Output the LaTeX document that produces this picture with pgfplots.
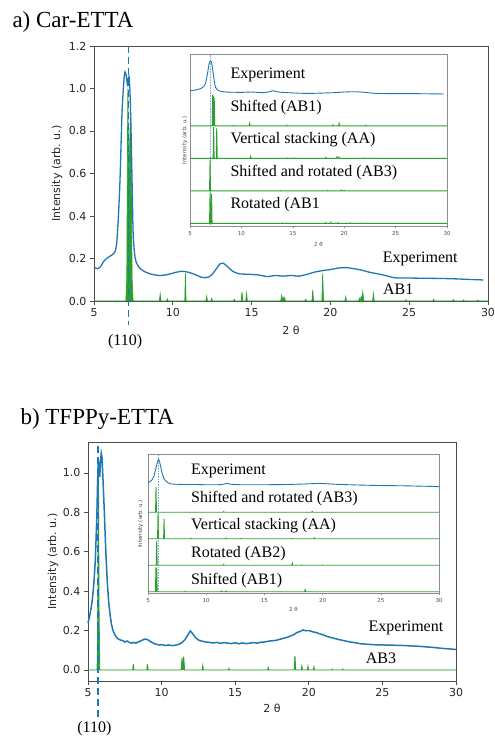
\documentclass[border=0pt]{standalone}
\usepackage{fontspec}
\setmainfont{Liberation Serif}
\newfontfamily\dv{DejaVu Sans}
\usepackage{pgfplots}
\pgfplotsset{compat=1.18}
\definecolor{tblue}{RGB}{31,119,180}
\definecolor{tgreen}{RGB}{44,160,44}
\tikzset{lab/.style={font=\fontsize{16}{18}\selectfont}}
\pgfplotsset{
 mainax/.style={scale only axis, anchor=south west, xmin=5, xmax=30, xtick={5,10,15,20,25,30},
  tick align=outside, tick pos=left, major tick length=4pt,
  axis line style={black!70, line width=0.8pt}, every tick/.style={black!70, line width=0.8pt},
  tick label style={font=\dv\fontsize{11}{13}\selectfont, text=black!85},
  /pgf/number format/assume math mode=true,
  label style={font=\dv\fontsize{11}{13}\selectfont, text=black!85},
  ylabel={Intensity (arb.\ u.)}, xlabel={2 θ}, clip=false,
  yticklabel style={/pgf/number format/.cd, fixed, fixed zerofill, precision=1}},
 inax/.style={scale only axis, anchor=south west, xmin=5, xmax=30, xtick={5,10,15,20,25,30}, ytick=\empty,
  tick align=outside, tick pos=left, major tick length=1.5pt,
  axis line style={black!45, line width=0.6pt}, every tick/.style={black!45},
  tick label style={font=\dv\fontsize{5.5}{6}\selectfont, text=black!70},
  /pgf/number format/assume math mode=true,
  label style={font=\dv\fontsize{5.5}{6}\selectfont, text=black!70},
  ylabel={Intensity (arb.\ u.)}, xlabel={2 θ},
  axis background/.style={fill=white}, clip=false},
}
\begin{document}
\begin{tikzpicture}
\path[use as bounding box] (0,0) rectangle (495pt,737pt);
\node[anchor=west, font=\fontsize{23}{26}\selectfont] at (9pt,715pt) {a) Car-ETTA};
\node[anchor=west, font=\fontsize{23}{26}\selectfont] at (17pt,318pt) {b) TFPPy-ETTA};

% ---------------- panel a main
\begin{axis}[mainax, at={(94pt,436pt)}, width=394pt, height=255pt, ymin=0, ymax=1.2,
  ytick={0,0.2,0.4,0.6,0.8,1.0,1.2},
  xlabel style={at={(axis description cs:0.5,-0.114)}, anchor=center},
  ylabel style={at={(axis description cs:-0.094,0.5)}, anchor=center}]
\addplot[tgreen, fill=tgreen, line width=0.7pt] coordinates {
(5,0)(7.02,0)(7.08,0.1)(7.12,0.7)(7.15,1.0)(7.18,0.7)(7.22,0.55)(7.27,0.75)(7.32,0.905)(7.36,0.6)(7.42,0.1)(7.48,0)
(9.15,0)(9.2,0.032)(9.25,0)(9.6,0)(9.65,0.01)(9.7,0)
(10.76,0)(10.8,0.13)(10.84,0)
(12.1,0)(12.15,0.022)(12.2,0)(12.42,0)(12.47,0.012)(12.52,0)
(13.85,0)(13.9,0.008)(13.95,0)
(14.34,0)(14.39,0.042)(14.44,0)(14.63,0)(14.68,0.036)(14.73,0)
(16.85,0)(16.9,0.025)(16.95,0)(17.0,0.018)(17.05,0)(17.1,0.015)(17.15,0)
(18.38,0)(18.43,0.008)(18.48,0)(18.83,0)(18.88,0.052)(18.93,0)
(19.46,0)(19.51,0.13)(19.56,0)
(20.92,0)(20.97,0.02)(21.02,0)
(21.79,0)(21.84,0.012)(21.89,0)(21.95,0.02)(22.0,0)(22.05,0.042)(22.12,0)
(22.68,0)(22.73,0.035)(22.78,0)
(24.75,0)(24.8,0.006)(24.85,0)(26.5,0)(26.55,0.008)(26.6,0)
(27.75,0)(27.8,0.006)(27.85,0)(28.4,0)(28.45,0.005)(28.5,0)(29.3,0)(29.35,0.004)(29.4,0)(30,0)};
\addplot[tblue, line width=1.3pt, smooth, tension=0.4] coordinates {
(5.0,0.160)(5.2,0.152)(5.4,0.160)(5.6,0.185)(5.8,0.200)(6.0,0.210)(6.2,0.220)(6.35,0.235)(6.45,0.28)(6.55,0.40)(6.65,0.57)(6.78,0.89)(6.9,1.04)(6.97,1.078)(7.05,1.06)(7.12,1.02)(7.22,1.057)(7.3,0.95)(7.38,0.7)(7.48,0.33)(7.58,0.22)(7.69,0.18)(7.85,0.16)(8.0,0.148)(8.3,0.135)(8.7,0.125)(9.2,0.12)(9.7,0.125)(10.2,0.135)(10.6,0.14)(11.0,0.135)(11.4,0.125)(11.8,0.112)(12.1,0.11)(12.4,0.118)(12.7,0.145)(13.0,0.175)(13.2,0.178)(13.5,0.16)(13.8,0.14)(14.2,0.128)(15,0.125)(15.5,0.122)(16.0,0.115)(16.5,0.12)(17,0.117)(17.5,0.12)(18,0.117)(18.5,0.125)(19.0,0.136)(19.5,0.143)(20,0.148)(20.5,0.155)(21,0.157)(21.5,0.152)(22,0.145)(22.5,0.135)(23,0.128)(23.5,0.12)(24,0.11)(24.5,0.108)(25,0.108)(26,0.107)(27,0.106)(28,0.104)(29,0.101)(29.7,0.099)};
\addplot[tblue, line width=1.6pt, dash pattern=on 7pt off 4pt] coordinates {(7.2,1.2)(7.2,-0.113)};
\node[lab] at (axis cs:25.7,0.20) {Experiment};
\node[lab] at (axis cs:24.3,0.055) {AB1};
\node[lab] at (axis cs:6.97,-0.189) {(110)};
\end{axis}

% ---------------- panel a inset
\begin{axis}[inax, at={(190pt,510.3pt)}, width=257pt, height=172.4pt, ymin=-0.1, ymax=5.2,
  xlabel style={at={(axis description cs:0.5,-0.105)}, anchor=center},
  ylabel style={at={(axis description cs:-0.02,0.5)}, anchor=center}]
\addplot[tblue!60, densely dotted, line width=0.6pt] coordinates {(7.0,-0.1)(7.0,5.2)};
\addplot[tblue, line width=0.9pt, smooth, tension=0.4] coordinates {
(5,4.08)(5.5,4.1)(6,4.14)(6.3,4.2)(6.5,4.3)(6.7,4.6)(6.85,4.9)(7.0,5.0)(7.1,4.95)(7.2,4.75)(7.35,4.4)(7.5,4.18)(7.8,4.08)(8.5,4.04)(10,4.03)(11,4.04)(12,4.02)(12.6,4.04)(13.1,4.08)(13.6,4.04)(14.5,4.02)(16,4.0)(17,4.0)(18,4.01)(19,4.02)(20,4.04)(21,4.05)(22,4.03)(23,4.0)(25,3.99)(27,3.99)(29.7,3.98)};
% Shifted (AB1), baseline 3
\addplot[tgreen, line width=0.9pt] coordinates {
(5,3)(7.16,3)(7.2,3.95)(7.24,3)(7.28,3.92)(7.32,3)(7.36,3.85)(7.4,3)
(9.15,3)(9.2,3.015)(9.25,3)(10.75,3)(10.8,3.08)(10.85,3)(14.35,3)(14.4,3.02)(14.45,3)
(18.85,3)(18.9,3.03)(18.95,3)(19.45,3)(19.5,3.08)(19.55,3)(22.05,3)(22.1,3.02)(22.15,3)(30,3)};
% Vertical stacking (AA), baseline 2
\addplot[tgreen, line width=0.9pt] coordinates {
(5,2)(7.25,2)(7.3,2.97)(7.35,2)(7.55,2)(7.6,2.93)(7.65,2)
(10.85,2)(10.9,2.06)(10.95,2)(14.45,2)(14.5,2.015)(14.55,2)(15.05,2)(15.1,2.015)(15.15,2)
(18.15,2)(18.2,2.03)(18.25,2)(19.25,2)(19.3,2.05)(19.4,2)(19.5,2.04)(19.55,2)
(21.85,2)(21.9,2.015)(21.95,2)(22.95,2)(23,2.01)(23.05,2)(30,2)};
% Shifted and rotated (AB3), baseline 1
\addplot[tgreen, line width=0.9pt] coordinates {
(5,1)(6.9,1)(6.95,1.95)(7.0,1)
(13.75,1)(13.8,1.01)(13.85,1)(18.35,1)(18.4,1.02)(18.45,1)(19.65,1)(19.7,1.03)(19.8,1)(19.95,1)(20,1.02)(20.05,1)(30,1)};
% Rotated (AB1), baseline 0
\addplot[tgreen, line width=0.9pt] coordinates {
(5,0)(6.9,0)(6.95,0.95)(7.0,0)(7.05,0)(7.1,0.9)(7.15,0)
(13.95,0)(14.0,0.015)(14.05,0)(14.35,0)(14.4,0.015)(14.45,0)(18.15,0)(18.2,0.03)(18.25,0)(18.65,0)(18.7,0.035)(18.75,0)
(19.35,0)(19.4,0.03)(19.45,0)(20.55,0)(20.6,0.02)(20.65,0)(21.65,0)(21.7,0.015)(21.75,0)(22.15,0)(22.2,0.01)(22.25,0)(30,0)};
\node[lab, anchor=west] at (axis cs:8.6,4.57) {Experiment};
\node[lab, anchor=west] at (axis cs:8.6,3.56) {Shifted (AB1)};
\node[lab, anchor=west] at (axis cs:8.6,2.57) {Vertical stacking (AA)};
\node[lab, anchor=west] at (axis cs:8.6,1.57) {Shifted and rotated (AB3)};
\node[lab, anchor=west] at (axis cs:8.6,0.57) {Rotated (AB1};
\end{axis}

% ---------------- panel b main
\begin{axis}[mainax, at={(88pt,56pt)}, width=368pt, height=239pt, ymin=-0.056, ymax=1.157,
  ytick={0,0.2,0.4,0.6,0.8,1.0},
  xlabel style={at={(axis description cs:0.5,-0.113)}, anchor=center},
  ylabel style={at={(axis description cs:-0.095,0.5)}, anchor=center}]
\addplot[tgreen, fill=tgreen, line width=0.9pt] coordinates {
(5,0)(5.62,0)(5.67,0.3)(5.71,1.0)(5.75,0.3)(5.8,0)
(8.04,0)(8.08,0.03)(8.12,0)(9.0,0)(9.04,0.03)(9.08,0)
(11.33,0)(11.39,0.06)(11.45,0)(11.5,0.068)(11.56,0)
(12.76,0)(12.8,0.022)(12.84,0)(14.53,0)(14.57,0.008)(14.61,0)(17.2,0)(17.24,0.012)(17.28,0)
(19.01,0)(19.06,0.071)(19.11,0)(19.49,0)(19.53,0.02)(19.57,0)(19.9,0)(19.94,0.018)(19.98,0)(20.31,0)(20.35,0.015)(20.39,0)
(21.56,0)(21.6,0.004)(21.64,0)(22.26,0)(22.3,0.005)(22.34,0)(30,0)};
\addplot[tblue, line width=1.5pt] coordinates {
(5.0,0.237)(5.1,0.27)(5.2,0.31)(5.3,0.36)(5.4,0.44)(5.5,0.56)(5.6,0.78)(5.65,0.95)(5.7,1.07)(5.75,1.02)(5.8,0.98)(5.85,1.06)(5.9,1.10)(5.95,1.08)(6.0,1.0)(6.1,0.82)(6.2,0.62)(6.3,0.46)(6.4,0.35)(6.5,0.28)(6.6,0.23)(6.7,0.20)(6.85,0.175)(7.0,0.16)(7.2,0.152)(7.4,0.148)(7.5,0.142)(7.65,0.147)(7.8,0.14)(7.95,0.136)(8.1,0.14)(8.25,0.136)(8.4,0.142)(8.55,0.146)(8.7,0.152)(8.9,0.157)(9.1,0.152)(9.25,0.143)(9.4,0.138)(9.55,0.132)(9.7,0.13)(9.85,0.126)(10.0,0.129)(10.25,0.124)(10.5,0.127)(10.75,0.123)(11.0,0.127)(11.2,0.131)(11.4,0.14)(11.6,0.155)(11.8,0.18)(11.95,0.198)(12.1,0.185)(12.3,0.165)(12.5,0.152)(12.75,0.146)(13.0,0.142)(13.25,0.14)(13.5,0.137)(13.75,0.14)(14,0.135)(14.25,0.139)(14.5,0.136)(14.75,0.134)(15,0.138)(15.25,0.133)(15.5,0.137)(15.75,0.134)(16,0.136)(16.25,0.139)(16.5,0.136)(16.75,0.141)(17,0.142)(17.25,0.146)(17.5,0.148)(17.75,0.15)(18,0.155)(18.25,0.16)(18.5,0.165)(18.75,0.172)(19,0.18)(19.2,0.19)(19.4,0.195)(19.6,0.203)(19.8,0.199)(20,0.2)(20.25,0.194)(20.5,0.19)(20.75,0.183)(21,0.178)(21.25,0.17)(21.5,0.165)(21.75,0.16)(22,0.155)(22.25,0.151)(22.5,0.147)(22.75,0.143)(23,0.14)(23.25,0.137)(23.5,0.133)(23.75,0.132)(24,0.13)(24.5,0.128)(25,0.127)(25.5,0.126)(26,0.125)(26.5,0.124)(27,0.122)(27.5,0.12)(28,0.117)(28.5,0.114)(29,0.11)(29.5,0.107)(30,0.104)};
\addplot[tblue, line width=1.6pt, dash pattern=on 7pt off 4pt] coordinates {(5.68,1.139)(5.68,-0.254)};
\node[lab] at (axis cs:26.6,0.215) {Experiment};
\node[lab] at (axis cs:24.9,0.057) {AB3};
\node[lab] at (axis cs:5.43,-0.30) {(110)};
\end{axis}

% ---------------- panel b inset
\begin{axis}[inax, at={(148pt,143.7pt)}, width=291pt, height=139pt, ymin=-0.06, ymax=5.19,
  xlabel style={at={(axis description cs:0.5,-0.115)}, anchor=center},
  ylabel style={at={(axis description cs:-0.025,0.5)}, anchor=center}]
\addplot[tblue!60, densely dotted, line width=0.6pt] coordinates {(5.92,-0.06)(5.92,5.19)};
\addplot[tblue, line width=0.9pt, smooth, tension=0.4] coordinates {
(5,4.13)(5.3,4.2)(5.5,4.35)(5.7,4.7)(5.85,4.95)(5.92,4.99)(6.0,4.9)(6.2,4.5)(6.4,4.25)(6.7,4.12)(7,4.07)(8,4.05)(9,4.05)(10,4.04)(11,4.04)(11.5,4.06)(11.8,4.09)(12.1,4.06)(13,4.04)(15,4.04)(17,4.05)(18.5,4.07)(19.8,4.09)(21,4.06)(23,4.03)(25,4.01)(27,4.0)(30,3.97)};
% Shifted and rotated (AB3), baseline 3
\addplot[tgreen, line width=0.9pt] coordinates {
(5,3)(5.65,3)(5.69,3.96)(5.73,3)(8.05,3)(8.1,3.01)(8.15,3)(8.95,3)(9.0,3.01)(9.05,3)
(11.45,3)(11.5,3.03)(11.55,3)(19.05,3)(19.1,3.03)(19.15,3)(30,3)};
% Vertical stacking (AA), baseline 2
\addplot[tgreen, line width=0.9pt] coordinates {
(5,2)(5.82,2)(5.86,2.96)(5.9,2)(6.34,2)(6.38,2.74)(6.42,2)
(8.65,2)(8.7,2.02)(8.75,2)(11.65,2)(11.7,2.025)(11.75,2)(12.95,2)(13.0,2.015)(13.05,2)
(17.35,2)(17.4,2.015)(17.45,2)(19.25,2)(19.3,2.03)(19.35,2)(30,2)};
% Rotated (AB2), baseline 1
\addplot[tgreen, line width=0.9pt] coordinates {
(5,1)(5.71,1)(5.75,1.93)(5.79,1)(11.45,1)(11.5,1.03)(11.55,1)(17.35,1)(17.4,1.08)(17.45,1)
(18.15,1)(18.2,1.015)(18.25,1)(19.95,1)(20.0,1.01)(20.05,1)(30,1)};
% Shifted (AB1), baseline 0
\addplot[tgreen, line width=0.9pt] coordinates {
(5,0)(5.64,0)(5.68,0.92)(5.72,0)(5.75,0.9)(5.79,0)(8.15,0)(8.2,0.02)(8.25,0)
(11.25,0)(11.3,0.03)(11.35,0)(11.65,0)(11.7,0.03)(11.75,0)(18.45,0)(18.5,0.08)(18.55,0)(30,0)};
\node[lab, anchor=west] at (axis cs:8.4,4.57) {Experiment};
\node[lab, anchor=west] at (axis cs:8.4,3.52) {Shifted and rotated (AB3)};
\node[lab, anchor=west] at (axis cs:8.4,2.48) {Vertical stacking (AA)};
\node[lab, anchor=west] at (axis cs:8.4,1.45) {Rotated (AB2)};
\node[lab, anchor=west] at (axis cs:8.4,0.42) {Shifted (AB1)};
\end{axis}
\end{tikzpicture}
\end{document}
